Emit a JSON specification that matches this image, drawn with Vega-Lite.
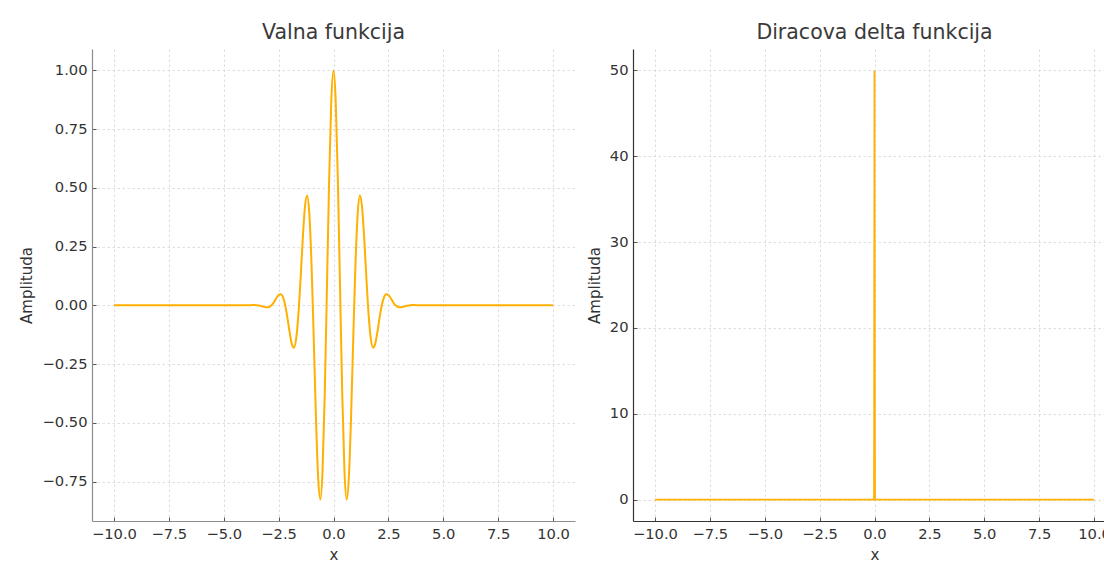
{
  "$schema": "https://vega.github.io/schema/vega-lite/v6.json",
  "padding": {"left": 19, "top": 22, "right": 0, "bottom": 0},
  "datasets": {
    "wave": [
      {"x": -10, "y": 0}, {"x": -5, "y": 0}, {"x": -4, "y": 0},
      {"x": -3.8, "y": 0.0007}, {"x": -3.7, "y": 0.001}, {"x": -3.6, "y": 0.001},
      {"x": -3.5, "y": 0.0005}, {"x": -3.4, "y": -0.0009}, {"x": -3.3, "y": -0.003},
      {"x": -3.2, "y": -0.0057}, {"x": -3.1, "y": -0.008}, {"x": -3.0, "y": -0.0084},
      {"x": -2.9, "y": -0.0053}, {"x": -2.8, "y": 0.0027}, {"x": -2.7, "y": 0.0156},
      {"x": -2.6, "y": 0.0309}, {"x": -2.5, "y": 0.0438}, {"x": -2.4, "y": 0.0474},
      {"x": -2.3, "y": 0.0343}, {"x": -2.2, "y": 0.0004}, {"x": -2.1, "y": -0.0524},
      {"x": -2.0, "y": -0.1136}, {"x": -1.9, "y": -0.164}, {"x": -1.8, "y": -0.1803},
      {"x": -1.7, "y": -0.1419}, {"x": -1.6, "y": -0.0405}, {"x": -1.5, "y": 0.1125},
      {"x": -1.4, "y": 0.283}, {"x": -1.3, "y": 0.4195}, {"x": -1.2, "y": 0.4674},
      {"x": -1.1, "y": 0.387}, {"x": -1.0, "y": 0.1721}, {"x": -0.9, "y": -0.1406},
      {"x": -0.8, "y": -0.4746}, {"x": -0.7, "y": -0.733}, {"x": -0.6, "y": -0.8269},
      {"x": -0.5, "y": -0.707}, {"x": -0.4, "y": -0.3842}, {"x": -0.3, "y": 0.0676},
      {"x": -0.2, "y": 0.5296}, {"x": -0.1, "y": 0.8732}, {"x": 0, "y": 1},
      {"x": 0.1, "y": 0.8732}, {"x": 0.2, "y": 0.5296}, {"x": 0.3, "y": 0.0676},
      {"x": 0.4, "y": -0.3842}, {"x": 0.5, "y": -0.707}, {"x": 0.6, "y": -0.8269},
      {"x": 0.7, "y": -0.733}, {"x": 0.8, "y": -0.4746}, {"x": 0.9, "y": -0.1406},
      {"x": 1.0, "y": 0.1721}, {"x": 1.1, "y": 0.387}, {"x": 1.2, "y": 0.4674},
      {"x": 1.3, "y": 0.4195}, {"x": 1.4, "y": 0.283}, {"x": 1.5, "y": 0.1125},
      {"x": 1.6, "y": -0.0405}, {"x": 1.7, "y": -0.1419}, {"x": 1.8, "y": -0.1803},
      {"x": 1.9, "y": -0.164}, {"x": 2.0, "y": -0.1136}, {"x": 2.1, "y": -0.0524},
      {"x": 2.2, "y": 0.0004}, {"x": 2.3, "y": 0.0343}, {"x": 2.4, "y": 0.0474},
      {"x": 2.5, "y": 0.0438}, {"x": 2.6, "y": 0.0309}, {"x": 2.7, "y": 0.0156},
      {"x": 2.8, "y": 0.0027}, {"x": 2.9, "y": -0.0053}, {"x": 3.0, "y": -0.0084},
      {"x": 3.1, "y": -0.008}, {"x": 3.2, "y": -0.0057}, {"x": 3.3, "y": -0.003},
      {"x": 3.4, "y": -0.0009}, {"x": 3.5, "y": 0.0005}, {"x": 3.6, "y": 0.001},
      {"x": 3.7, "y": 0.001}, {"x": 3.8, "y": 0.0007}, {"x": 4, "y": 0},
      {"x": 5, "y": 0}, {"x": 10, "y": 0}
    ],
    "delta": [
      {"x": -10, "y": 0}, {"x": -0.02, "y": 0}, {"x": 0, "y": 50},
      {"x": 0.02, "y": 0}, {"x": 10, "y": 0}
    ]
  },
  "hconcat": [
    {
      "title": "Valna funkcija",
      "width": 483,
      "height": 472,
      "data": {"name": "wave"},
      "mark": {"type": "line", "color": "#ffb000", "strokeWidth": 2, "interpolate": "monotone"},
      "encoding": {
        "x": {
          "field": "x", "type": "quantitative", "title": "x",
          "scale": {"domain": [-11, 11], "nice": false, "zero": false},
          "axis": {"values": [-10, -7.5, -5, -2.5, 0, 2.5, 5, 7.5, 10], "format": ".1f", "domainColor": "#8c8c8c"}
        },
        "y": {
          "field": "y", "type": "quantitative", "title": "Amplituda",
          "scale": {"domain": [-0.918, 1.091], "nice": false, "zero": false},
          "axis": {"values": [-0.75, -0.5, -0.25, 0, 0.25, 0.5, 0.75, 1], "format": ".2f", "domainColor": "#8c8c8c"}
        }
      }
    },
    {
      "title": "Diracova delta funkcija",
      "width": 483,
      "height": 472,
      "data": {"name": "delta"},
      "mark": {"type": "line", "color": "#ffb000", "strokeWidth": 1.8},
      "encoding": {
        "x": {
          "field": "x", "type": "quantitative", "title": "x",
          "scale": {"domain": [-11, 11], "nice": false, "zero": false},
          "axis": {"values": [-10, -7.5, -5, -2.5, 0, 2.5, 5, 7.5, 10], "format": ".1f"}
        },
        "y": {
          "field": "y", "type": "quantitative", "title": "Amplituda",
          "scale": {"domain": [-2.5, 52.5], "nice": false, "zero": false},
          "axis": {"values": [0, 10, 20, 30, 40, 50], "format": "d"}
        }
      }
    }
  ],
  "spacing": 12,
  "config": {
    "font": "DejaVu Sans",
    "view": {"stroke": null},
    "title": {"fontSize": 20.5, "fontWeight": "normal", "color": "#3a3a3a", "offset": 6},
    "axis": {
      "grid": true,
      "gridColor": "#d6d6d6",
      "gridDash": [2.5, 2.5],
      "gridWidth": 0.8,
      "domainColor": "#333333",
      "domainWidth": 1.2,
      "tickColor": "#555555",
      "tickSize": -4,
      "labelColor": "#333333",
      "labelFontSize": 14.7,
      "labelPadding": 9,
      "titleColor": "#333333",
      "titleFontSize": 15,
      "titleFontWeight": "normal",
      "titlePadding": 7
    }
  }
}
